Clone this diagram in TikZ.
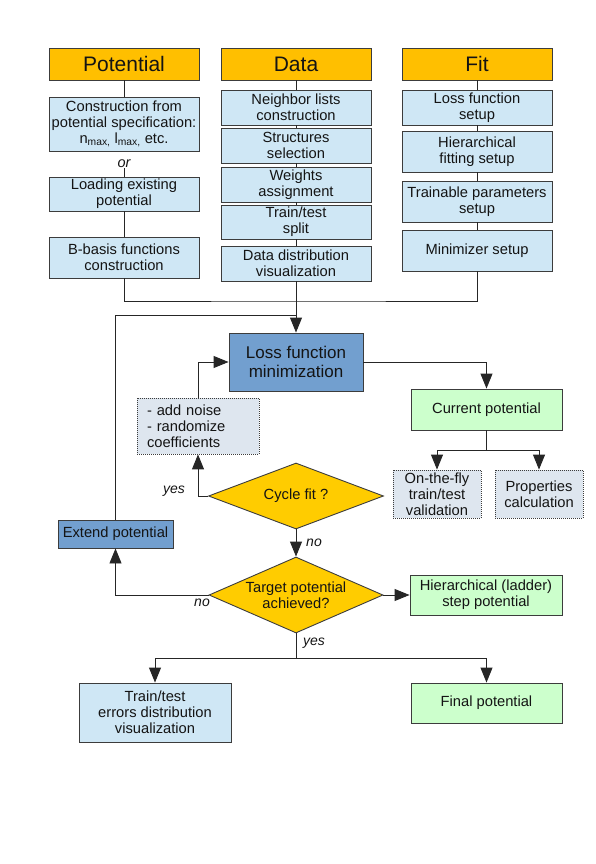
\documentclass[tikz,border=0pt]{standalone}
\usepackage{fontspec}
\setmainfont{Liberation Sans}
\usetikzlibrary{shapes.geometric,arrows.meta}
\definecolor{hdrorange}{HTML}{FFBF00}
\definecolor{lblue}{HTML}{CFE7F5}
\definecolor{dblue}{HTML}{729FCF}
\definecolor{lgreen}{HTML}{CCFFCC}
\definecolor{lgray}{HTML}{DEE6EF}
\definecolor{dgold}{HTML}{FFCC00}
\definecolor{bord}{HTML}{3C3C3C}
\definecolor{txt}{HTML}{141414}
\tikzset{
  base/.style={draw=bord, line width=0.9pt, inner sep=0pt, align=center, text=txt,
    font=\fontsize{14.7}{15.8}\selectfont},
  hdr/.style={base, fill=hdrorange, minimum width=150pt, minimum height=32pt,
    font=\fontsize{21}{23}\selectfont},
  lbbox/.style={base, fill=lblue},
  dbbox/.style={base, fill=dblue},
  grbox/.style={base, fill=lgreen},
  dotbox/.style={base, fill=lgray, dash pattern=on 1pt off 1pt, line width=0.8pt},
  dia/.style={base, diamond, fill=dgold},
  lab/.style={font=\fontsize{14}{15}\selectfont\itshape, text=txt, inner sep=0pt},
  conn/.style={draw=black!85, line width=0.9pt},
  arr/.style={conn, -{Triangle[length=15pt,width=12pt]}},
}
\begin{document}
\begin{tikzpicture}[x=1pt,y=-1pt]
\useasboundingbox (0,0) rectangle (595,864);
% headers
\node[hdr] (hp) at (124,64) {Potential};
\node[hdr] (hd) at (296,64) {Data};
\node[hdr] (hf) at (477,64) {Fit};
% potential column
\node[lbbox, minimum width=150pt, minimum height=54pt] (p1) at (124,124)
  {Construction from\\potential specification:\\n\textsubscript{max,} l\textsubscript{max,} etc.};
\node[lab, font=\fontsize{14.5}{15}\selectfont\itshape] (por) at (124,164) {or};
\node[lbbox, minimum width=150pt, minimum height=34pt] (p2) at (124,194) {Loading existing\\potential};
\node[lbbox, minimum width=150pt, minimum height=41pt] (p3) at (124,257.5) {B-basis functions\\construction};
% data column
\node[lbbox, minimum width=150pt, minimum height=35pt] (d1) at (296,107.5) {Neighbor lists\\construction};
\node[lbbox, minimum width=150pt, minimum height=35pt] (d2) at (296,145.5) {Structures\\selection};
\node[lbbox, minimum width=150pt, minimum height=35pt] (d3) at (296,184.5) {Weights\\assignment};
\node[lbbox, minimum width=150pt, minimum height=34pt] (d4) at (296,222) {Train/test\\split};
\node[lbbox, minimum width=150pt, minimum height=35pt] (d5) at (296,263.5) {Data distribution\\visualization};
% fit column
\node[lbbox, minimum width=150pt, minimum height=35pt] (f1) at (477,107.5) {Loss function\\setup};
\node[lbbox, minimum width=150pt, minimum height=41pt] (f2) at (477,151.5) {Hierarchical\\fitting setup};
\node[lbbox, minimum width=150pt, minimum height=41pt] (f3) at (477,201.5) {Trainable parameters\\setup};
\node[lbbox, minimum width=150pt, minimum height=41pt] (f4) at (477,250.5) {Minimizer setup};
% main flow
\node[dbbox, minimum width=134pt, minimum height=58pt, font=\fontsize{17}{18.5}\selectfont] (loss) at (296,362) {Loss function\\minimization};
\node[grbox, minimum width=151pt, minimum height=41pt] (cur) at (486.5,409.5) {Current potential};
\node[dotbox, minimum width=88pt, minimum height=48pt] (otf) at (437,494) {On-the-fly\\train/test\\validation};
\node[dotbox, minimum width=88pt, minimum height=48pt] (prop) at (539,494) {Properties\\calculation};
\node[dotbox, minimum width=122pt, minimum height=56pt, text width=102pt, inner xsep=10pt, align=left] (noise) at (198,426) {- add noise\\- randomize\\coefficients};
\node[dia, minimum width=175pt, minimum height=66pt, aspect=2.65] (cyc) at (296,496) {Cycle fit ?};
\node[dia, minimum width=174pt, minimum height=76pt, aspect=2.3] (tgt) at (296,595) {Target potential\\achieved?};
\node[dbbox, minimum width=115pt, minimum height=28pt] (ext) at (115.5,534) {Extend potential};
\node[grbox, minimum width=152pt, minimum height=40pt] (hier) at (486,595) {Hierarchical (ladder)\\step potential};
\node[lbbox, minimum width=152pt, minimum height=59pt] (tte) at (155,712.5) {Train/test\\errors distribution\\visualization};
\node[grbox, minimum width=151pt, minimum height=40pt] (fin) at (486.5,703) {Final potential};
% labels
\node[lab] (ly1) at (174,491) {yes};
\node[lab] (ln1) at (314,543) {no};
\node[lab] (ln2) at (202,603) {no};
\node[lab] (ly2) at (314,643) {yes};
% coordinates
\coordinate (j) at (296,301);
\coordinate (k) at (296,315);
\coordinate (c1) at (486.5,450);
\coordinate (y1) at (296,658);
% column connectors
\draw[conn] (hp.south) -- (p1.north);
\draw[conn] (por.south) -- (p2.north);
\draw[conn] (p2.south) -- (p3.north);
\draw[conn] (hd.south) -- (d1.north);
\draw[conn] (d1.south) -- (d2.north);
\draw[conn] (d2.south) -- (d3.north);
\draw[conn] (d3.south) -- (d4.north);
\draw[conn] (d4.south) -- (d5.north);
\draw[conn] (hf.south) -- (f1.north);
\draw[conn] (f1.south) -- (f2.north);
\draw[conn] (f2.south) -- (f3.north);
\draw[conn] (f3.south) -- (f4.north);
\draw[conn] (p3.south) |- (j) -| (f4.south);
\draw[arr] (d5.south) -- (loss.north);
\draw[conn] (ext.north) |- (k);
% flow connectors
\draw[arr] (loss.east) -| (cur.north);
\draw[conn] (cur.south) -- (c1);
\draw[arr] (c1) -| (otf.north);
\draw[arr] (c1) -| (prop.north);
\draw[arr] (noise.north) |- (loss.west);
\draw[arr] (cyc.west) -| (noise.south);
\draw[arr] (cyc.south) -- (tgt.north);
\draw[arr] (tgt.east) -- (hier.west);
\draw[arr] (tgt.west) -| (ext.south);
\draw[conn] (tgt.south) -- (y1);
\draw[arr] (y1) -| (tte.north);
\draw[arr] (y1) -| (fin.north);
\end{tikzpicture}
\end{document}
